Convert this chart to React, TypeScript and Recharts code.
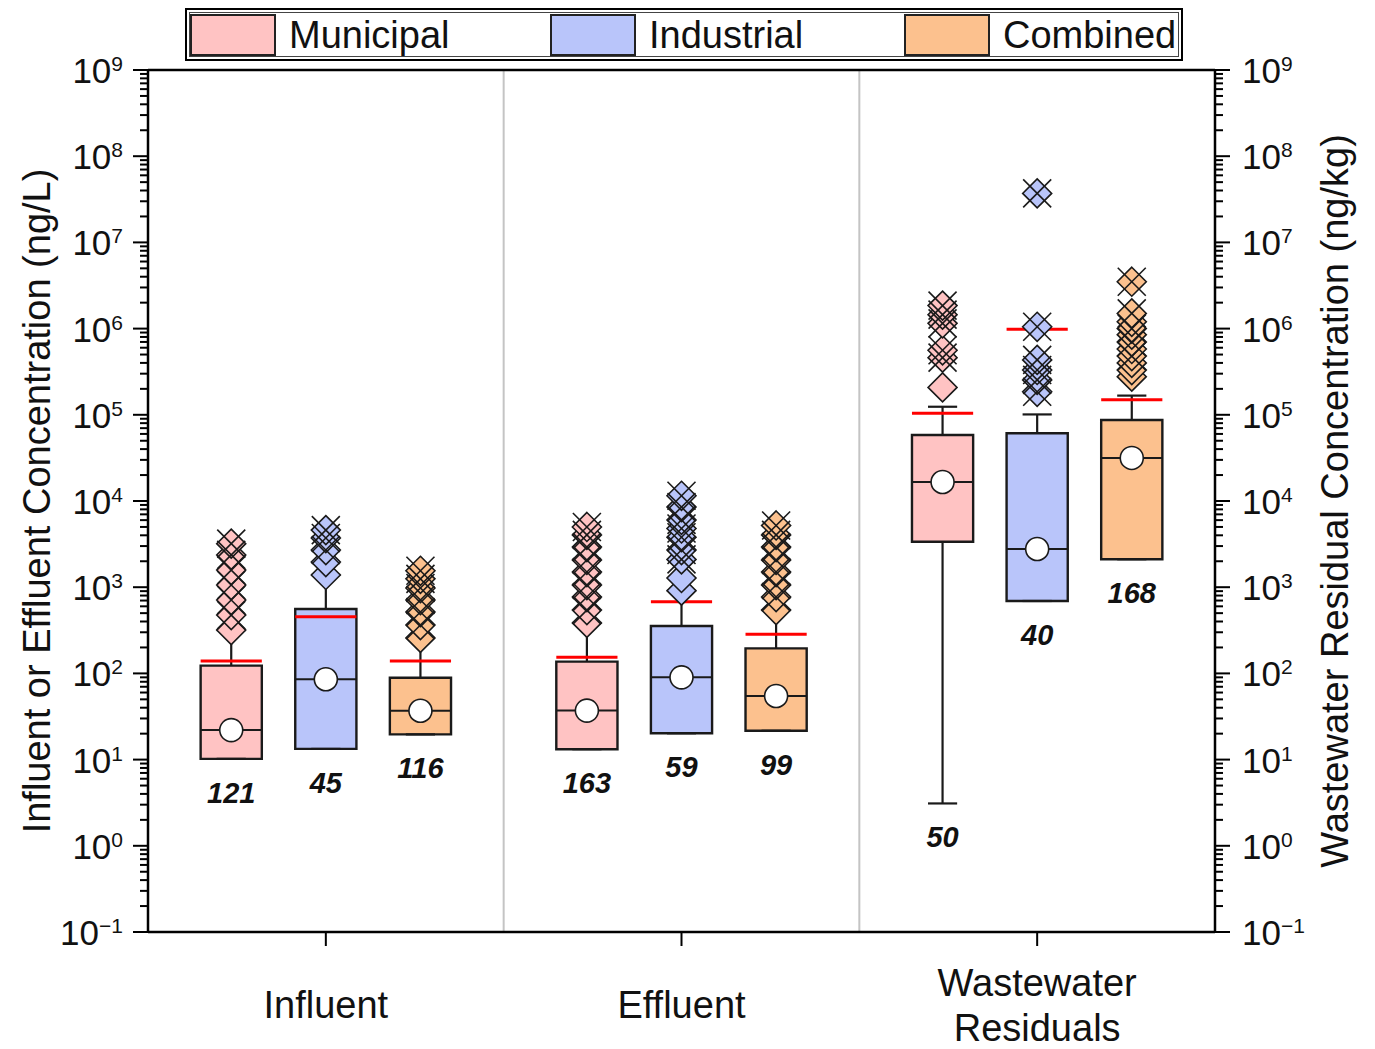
import React from "react";
import {
  ComposedChart,
  XAxis,
  YAxis,
  Scatter,
  ReferenceArea,
  ReferenceLine,
  Legend,
  Label,
} from "recharts";

const sites = ["Influent", "Effluent", "Wastewater Residuals"];
const siteLabelLines = [["Influent"], ["Effluent"], ["Wastewater", "Residuals"]];
const seriesNames = ["Municipal", "Industrial", "Combined"];

// one value per site: Influent, Effluent, Wastewater Residuals
const municipalQ1 = [10.2, 13.2, 3370];
const municipalMedian = [22, 37, 16600];
const municipalQ3 = [123, 137, 58300];
const municipalLow = [10.2, 13.2, 3.1];
const municipalHigh = [318, 385, 124000];
const municipalMean = [139, 154, 104000];
const municipalN = [121, 163, 50];
const municipalOutliers = [
  [318, 475, 710, 1060, 1580, 2370, 3200],
  [385, 543, 769, 1060, 1500, 2070, 2920, 4040, 5000],
  [208000, 460000, 560000, 1150000, 1450000, 1850000],
];
const municipalCrosses = [
  [475, 710, 1060, 1580, 2370, 3200],
  [543, 769, 1060, 1500, 2070, 2920, 4040, 5000],
  [460000, 560000, 1150000, 1450000, 1850000],
];

const industrialQ1 = [13.3, 20.2, 692];
const industrialMedian = [85.5, 90, 2770];
const industrialQ3 = [559, 355, 61000];
const industrialLow = [13.3, 20.2, 692];
const industrialHigh = [1387, 912, 101000];
const industrialMean = [455, 680, 982000];
const industrialN = [45, 59, 40];
const industrialOutliers = [
  [1387, 1960, 2700, 3720, 4600],
  [912, 1280, 2100, 2700, 3800, 4800, 6030, 8500, 11500],
  [185000, 254000, 331000, 433000, 1050000, 37000000],
];
const industrialCrosses = [
  [2700, 3720, 4600],
  [2100, 2700, 3800, 4800, 6030, 8500, 11500],
  [185000, 254000, 331000, 433000, 1050000, 37000000],
];

const combinedQ1 = [19.6, 21.6, 2110];
const combinedMedian = [36.9, 54.7, 31600];
const combinedQ3 = [89, 195, 87100];
const combinedLow = [19.6, 21.6, 2110];
const combinedHigh = [258, 543, 167000];
const combinedMean = [139, 284, 149000];
const combinedN = [116, 99, 168];
const combinedOutliers = [
  [258, 364, 515, 710, 979, 1250, 1550],
  [543, 769, 1060, 1500, 2070, 2920, 4040, 5200],
  [277000, 330000, 400000, 480000, 580000, 700000, 850000, 1000000, 1200000, 1500000, 3500000],
];
const combinedCrosses = [
  [364, 515, 710, 979, 1250, 1550],
  [769, 1060, 1500, 2070, 2920, 4040, 5200],
  [480000, 700000, 1000000, 1500000, 3500000],
];

const majorExponents = [-1, 0, 1, 2, 3, 4, 5, 6, 7, 8, 9];
const minorMultipliers = [2, 3, 4, 5, 6, 7, 8, 9];
const siteTicks = [0.5, 1.5, 2.5];

const leftTitle = "Influent or Effluent Concentration (ng/L)";
const rightTitle = "Wastewater Residual Concentration (ng/kg)";

const series = [
  { q1: municipalQ1, median: municipalMedian, q3: municipalQ3, low: municipalLow, high: municipalHigh, mean: municipalMean, n: municipalN, outliers: municipalOutliers, crosses: municipalCrosses },
  { q1: industrialQ1, median: industrialMedian, q3: industrialQ3, low: industrialLow, high: industrialHigh, mean: industrialMean, n: industrialN, outliers: industrialOutliers, crosses: industrialCrosses },
  { q1: combinedQ1, median: combinedMedian, q3: combinedQ3, low: combinedLow, high: combinedHigh, mean: combinedMean, n: combinedN, outliers: combinedOutliers, crosses: combinedCrosses },
];

const seriesColors = ["#FFC3C3", "#B9C5FA", "#FCC18E"];
const FONT = '"Liberation Sans", Arial, sans-serif';
const INK = "#1a1a1a";

// layout in x-axis units (one site = 1)
const boxOffset = [0.234, 0.5, 0.766];
const boxHalf = 0.086;
const capHalf = 0.041;
const boxX = (s: number, j: number) => j + boxOffset[s];

const yTicks = majorExponents.flatMap((e) => [
  Math.pow(10, e),
  ...(e < 9 ? minorMultipliers.map((m) => m * Math.pow(10, e)) : []),
]);

const expOf = (v: number) => {
  const lg = Math.log10(v);
  const e = Math.round(lg);
  return { e, major: Math.abs(lg - e) < 1e-6 };
};

const supText = (e: number) => (e < 0 ? "\u2212" + -e : String(e));

function LeftTick(props: any) {
  const { x, y, payload } = props;
  const { e, major } = expOf(payload.value);
  return (
    <g>
      <line x1={x} y1={y} x2={x - (major ? 15 : 8)} y2={y} stroke="#000" strokeWidth={2} />
      {major && (
        <text x={x - 25} y={y + 13} textAnchor="end" fontSize={35} fill="#111" fontFamily={FONT}>
          10
          <tspan dy={-12} fontSize={21}>{supText(e)}</tspan>
        </text>
      )}
    </g>
  );
}

function RightTick(props: any) {
  const { x, y, payload } = props;
  const { e, major } = expOf(payload.value);
  return (
    <g>
      <line x1={x} y1={y} x2={x + (major ? 15 : 8)} y2={y} stroke="#000" strokeWidth={2} />
      {major && (
        <text x={x + 27} y={y + 13} textAnchor="start" fontSize={35} fill="#111" fontFamily={FONT}>
          10
          <tspan dy={-12} fontSize={21}>{supText(e)}</tspan>
        </text>
      )}
    </g>
  );
}

function SiteTick(props: any) {
  const { x, y, payload } = props;
  const lines = siteLabelLines[Math.floor(payload.value)] || [];
  const first = lines.length > 1 ? 51 : 73;
  return (
    <g>
      <line x1={x} y1={y} x2={x} y2={y + 14} stroke="#000" strokeWidth={2} />
      {lines.map((t, k) => (
        <text key={t} x={x} y={y + first + k * 45} textAnchor="middle" dominantBaseline="central" fontSize={38} fill="#111" fontFamily={FONT}>
          {t}
        </text>
      ))}
    </g>
  );
}

// dx is measured from the axis line
const renderTitle = (text: string, dx: number, fromRightEdge: boolean) => (props: any) => {
  const vb = props.viewBox;
  const cx = (fromRightEdge ? vb.x + vb.width : vb.x) + dx;
  const cy = vb.y + vb.height / 2;
  return (
    <text x={cx} y={cy} transform={`rotate(-90 ${cx} ${cy})`} textAnchor="middle" dominantBaseline="central" fontSize={38} fill="#111" fontFamily={FONT}>
      {text}
    </text>
  );
};

const Diamond = (props: any) => {
  const { cx, cy, fill } = props;
  const r = 14.5;
  return (
    <polygon
      points={`${cx},${cy - r} ${cx + r},${cy} ${cx},${cy + r} ${cx - r},${cy}`}
      fill={fill}
      stroke={INK}
      strokeWidth={1.6}
    />
  );
};

const Cross = (props: any) => {
  const { cx, cy } = props;
  const r = 14;
  return (
    <g stroke={INK} strokeWidth={1.6}>
      <line x1={cx - r} y1={cy - r} x2={cx + r} y2={cy + r} />
      <line x1={cx - r} y1={cy + r} x2={cx + r} y2={cy - r} />
    </g>
  );
};

const MedianDot = (props: any) => (
  <circle cx={props.cx} cy={props.cy} r={11.5} fill="#fff" stroke={INK} strokeWidth={1.6} />
);

const CountLabel = (props: any) => (
  <text x={props.cx} y={props.cy + 34} textAnchor="middle" dominantBaseline="central" fontSize={29} fontWeight="bold" fontStyle="italic" fill="#111" fontFamily={FONT}>
    {props.payload.n}
  </text>
);

const legendLeft = [0, 360, 714];

function LegendBox() {
  return (
    <div style={{ width: 998, height: 53, boxSizing: "border-box", border: "2px solid #000", padding: 2, background: "#fff" }}>
      <div style={{ position: "relative", width: "100%", height: "100%", boxSizing: "border-box", border: "1px solid #444" }}>
        {seriesNames.map((name, i) => (
          <div key={name} style={{ position: "absolute", left: legendLeft[i], top: 0, height: 43, display: "flex", alignItems: "center" }}>
            <div style={{ width: 86, height: 42, boxSizing: "border-box", background: seriesColors[i], border: "2px solid #222" }} />
            <span style={{ marginLeft: 13, fontSize: 38, lineHeight: "42px", color: "#111", fontFamily: FONT, whiteSpace: "nowrap" }}>{name}</span>
          </div>
        ))}
      </div>
    </div>
  );
}

export default function App() {
  const medianPoints = series.flatMap((s, i) => sites.map((_, j) => ({ x: boxX(i, j), y: s.median[j] })));
  const countPoints = series.flatMap((s, i) => sites.map((_, j) => ({ x: boxX(i, j), y: s.low[j], n: s.n[j] })));
  const outlierPoints = series.map((s, i) => s.outliers.flatMap((vals, j) => vals.map((v) => ({ x: boxX(i, j), y: v }))));
  const crossPoints = series.map((s, i) => s.crosses.flatMap((vals, j) => vals.map((v) => ({ x: boxX(i, j), y: v }))));

  return (
    <div style={{ position: "absolute", left: 0, top: 0, width: 1375, height: 1049, background: "#fff", fontFamily: FONT }}>
      <ComposedChart width={1375} height={1049} margin={{ top: 0, right: 0, bottom: 0, left: 0 }}>
        <XAxis
          dataKey="x"
          type="number"
          domain={[0, 3]}
          allowDataOverflow
          ticks={siteTicks}
          interval={0}
          height={117}
          tickSize={0}
          tickMargin={0}
          tickLine={false}
          axisLine={{ stroke: "#000", strokeWidth: 2.5 }}
          tick={<SiteTick />}
        />
        <XAxis
          xAxisId="top"
          orientation="top"
          type="number"
          domain={[0, 3]}
          height={70}
          tick={false}
          tickLine={false}
          axisLine={{ stroke: "#000", strokeWidth: 2.5 }}
        />
        <YAxis
          dataKey="y"
          type="number"
          scale="log"
          domain={[0.1, 1e9]}
          allowDataOverflow
          ticks={yTicks}
          interval={0}
          width={148}
          tickSize={0}
          tickMargin={0}
          tickLine={false}
          axisLine={{ stroke: "#000", strokeWidth: 2.5 }}
          tick={<LeftTick />}
        >
          <Label content={renderTitle(leftTitle, -111, true)} />
        </YAxis>
        <YAxis
          yAxisId="right"
          orientation="right"
          type="number"
          scale="log"
          domain={[0.1, 1e9]}
          allowDataOverflow
          ticks={yTicks}
          interval={0}
          width={160}
          tickSize={0}
          tickMargin={0}
          tickLine={false}
          axisLine={{ stroke: "#000", strokeWidth: 2.5 }}
          tick={<RightTick />}
        >
          <Label content={renderTitle(rightTitle, 120, false)} />
        </YAxis>

        <Legend
          verticalAlign="middle"
          align="center"
          layout="horizontal"
          content={<LegendBox />}
          wrapperStyle={{ top: 8, left: 185, width: 998, height: 53 }}
        />

        <ReferenceLine x={1} stroke="#c4c4c4" strokeWidth={2} />
        <ReferenceLine x={2} stroke="#c4c4c4" strokeWidth={2} />

        {series.flatMap((s, i) =>
          sites.map((_, j) => {
            const x = boxX(i, j);
            return [
              <ReferenceLine key={`wh-${i}-${j}`} segment={[{ x, y: s.q3[j] }, { x, y: s.high[j] }]} stroke={INK} strokeWidth={2.2} ifOverflow="visible" />,
              <ReferenceLine key={`wl-${i}-${j}`} segment={[{ x, y: s.q1[j] }, { x, y: s.low[j] }]} stroke={INK} strokeWidth={2.2} ifOverflow="visible" />,
              <ReferenceLine key={`ch-${i}-${j}`} segment={[{ x: x - capHalf, y: s.high[j] }, { x: x + capHalf, y: s.high[j] }]} stroke={INK} strokeWidth={2.2} ifOverflow="visible" />,
              <ReferenceLine key={`cl-${i}-${j}`} segment={[{ x: x - capHalf, y: s.low[j] }, { x: x + capHalf, y: s.low[j] }]} stroke={INK} strokeWidth={2.2} ifOverflow="visible" />,
              <ReferenceArea key={`box-${i}-${j}`} x1={x - boxHalf} x2={x + boxHalf} y1={s.q1[j]} y2={s.q3[j]} fill={seriesColors[i]} fillOpacity={1} stroke={INK} strokeWidth={2.4} ifOverflow="visible" />,
              <ReferenceLine key={`md-${i}-${j}`} segment={[{ x: x - boxHalf, y: s.median[j] }, { x: x + boxHalf, y: s.median[j] }]} stroke={INK} strokeWidth={2} ifOverflow="visible" />,
              <ReferenceLine key={`mn-${i}-${j}`} segment={[{ x: x - boxHalf, y: s.mean[j] }, { x: x + boxHalf, y: s.mean[j] }]} stroke="#ff0000" strokeWidth={3} ifOverflow="visible" />,
            ];
          })
        )}

        {seriesNames.map((name, i) => (
          <Scatter key={`o-${name}`} name={name} data={outlierPoints[i]} fill={seriesColors[i]} shape={<Diamond />} isAnimationActive={false} legendType="none" />
        ))}
        {seriesNames.map((name, i) => (
          <Scatter key={`x-${name}`} data={crossPoints[i]} shape={<Cross />} isAnimationActive={false} legendType="none" />
        ))}
        <Scatter data={medianPoints} shape={<MedianDot />} isAnimationActive={false} legendType="none" />
        <Scatter data={countPoints} shape={<CountLabel />} isAnimationActive={false} legendType="none" />
      </ComposedChart>
    </div>
  );
}
